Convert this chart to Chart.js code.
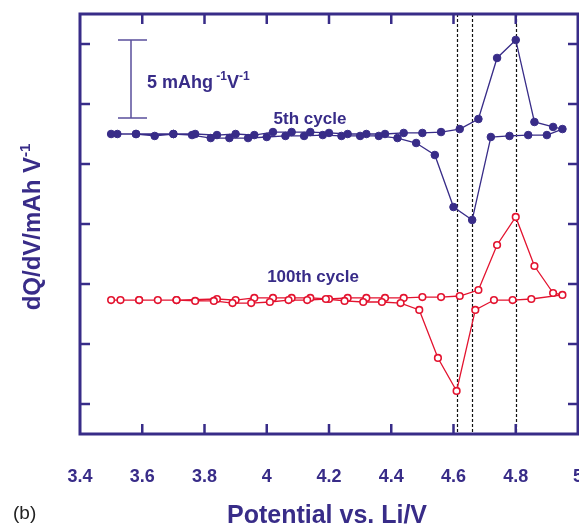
<!DOCTYPE html>
<html>
<head>
<meta charset="utf-8">
<script src="https://cdn.jsdelivr.net/npm/chart.js@4.4.1/dist/chart.umd.min.js"></script>
<style>
  html, body { margin: 0; padding: 0; background: #fff; }
  canvas { display: block; }
</style>
</head>
<body>
<canvas id="dqdv" width="579" height="525"></canvas>
<script>
// 5th cycle, charge (going up in potential) then discharge
const cyc5ChargeV = [3.50, 3.58, 3.70, 3.77, 3.84, 3.90, 3.96, 4.02, 4.08, 4.14, 4.20, 4.26, 4.32, 4.38, 4.44, 4.50, 4.56, 4.62, 4.68, 4.74, 4.80, 4.86, 4.92, 4.95];
const cyc5ChargeQ = [20.0, 20.0, 20.0, 20.0, 19.93, 20.0, 19.93, 20.13, 20.13, 20.13, 20.07, 20.0, 20.0, 20.0, 20.07, 20.07, 20.13, 20.33, 21.0, 25.07, 26.27, 20.8, 20.47, 20.33];
const cyc5DischV = [4.90, 4.84, 4.78, 4.72, 4.66, 4.60, 4.54, 4.48, 4.42, 4.36, 4.30, 4.24, 4.18, 4.12, 4.06, 4.00, 3.94, 3.88, 3.82, 3.76, 3.70, 3.64, 3.58, 3.52];
const cyc5DischQ = [19.93, 19.93, 19.87, 19.8, 14.27, 15.13, 18.6, 19.4, 19.73, 19.87, 19.87, 19.87, 19.93, 19.87, 19.87, 19.8, 19.73, 19.73, 19.73, 19.93, 20.0, 19.87, 20.0, 20.0];

// 100th cycle
const cyc100ChargeV = [3.50, 3.59, 3.71, 3.84, 3.90, 3.96, 4.02, 4.08, 4.14, 4.20, 4.26, 4.32, 4.38, 4.44, 4.50, 4.56, 4.62, 4.68, 4.74, 4.80, 4.86, 4.92, 4.95];
const cyc100ChargeQ = [8.93, 8.93, 8.93, 9.0, 8.93, 9.07, 9.07, 9.07, 9.07, 9.0, 9.07, 9.07, 9.07, 9.07, 9.13, 9.13, 9.2, 9.6, 12.6, 14.47, 11.2, 9.4, 9.27];
const cyc100DischV = [4.85, 4.79, 4.73, 4.67, 4.61, 4.55, 4.49, 4.43, 4.37, 4.31, 4.25, 4.19, 4.13, 4.07, 4.01, 3.95, 3.89, 3.83, 3.77, 3.71, 3.65, 3.59, 3.53];
const cyc100DischQ = [9.0, 8.93, 8.93, 8.27, 2.87, 5.07, 8.27, 8.73, 8.8, 8.8, 8.87, 9.0, 8.93, 8.93, 8.8, 8.73, 8.73, 8.87, 8.87, 8.93, 8.93, 8.93, 8.93];

const xTicks = [3.4, 3.6, 3.8, 4.0, 4.2, 4.4, 4.6, 4.8, 5.0];
const yTicks = [2, 6, 10, 14, 18, 22, 26];
const peakLines = [4.61, 4.66, 4.80];

const NAVY = "#382c88";
const RED = "#e3132f";
const FONT = "'Liberation Sans', Arial, sans-serif";

function toPoints(vs, qs) {
    return vs.map((v, i) => ({ x: v, y: qs[i] }));
}

// text made of chunks, some of them superscript: [[text, isSup], ...]
function drawRich(ctx, parts, x, y, size, supSize, align) {
    let total = 0;
    parts.forEach(p => {
        ctx.font = "bold " + (p[1] ? supSize : size) + "px " + FONT;
        total += ctx.measureText(p[0]).width;
    });
    let cx = align === "center" ? x - total / 2 : x;
    ctx.textAlign = "left";
    ctx.textBaseline = "alphabetic";
    parts.forEach(p => {
        ctx.font = "bold " + (p[1] ? supSize : size) + "px " + FONT;
        ctx.fillText(p[0], cx, p[1] ? y - size * 0.42 : y);
        cx += ctx.measureText(p[0]).width;
    });
}

const framePlugin = {
    id: "frame",
    beforeDatasetsDraw(chart) {
        const { ctx, chartArea: a, scales } = chart;
        ctx.save();
        ctx.strokeStyle = "#111";
        ctx.lineWidth = 1.2;
        ctx.setLineDash([3, 2]);
        peakLines.forEach(v => {
            const px = Math.round(scales.x.getPixelForValue(v)) + 0.5;
            ctx.beginPath();
            ctx.moveTo(px, a.top);
            ctx.lineTo(px, a.bottom);
            ctx.stroke();
        });
        ctx.restore();
    },
    afterDatasetsDraw(chart) {
        const { ctx, chartArea: a, scales } = chart;
        ctx.save();
        ctx.strokeStyle = NAVY;
        ctx.lineWidth = 3;
        ctx.strokeRect(a.left, a.top, a.right - a.left, a.bottom - a.top);

        // inward tick marks on all four sides
        ctx.lineWidth = 2.5;
        xTicks.slice(1, -1).forEach(v => {
            const px = scales.x.getPixelForValue(v);
            ctx.beginPath();
            ctx.moveTo(px, a.bottom);
            ctx.lineTo(px, a.bottom - 10);
            ctx.moveTo(px, a.top);
            ctx.lineTo(px, a.top + 10);
            ctx.stroke();
        });
        yTicks.forEach(v => {
            const py = scales.y.getPixelForValue(v);
            ctx.beginPath();
            ctx.moveTo(a.left, py);
            ctx.lineTo(a.left + 10, py);
            ctx.moveTo(a.right, py);
            ctx.lineTo(a.right - 10, py);
            ctx.stroke();
        });

        // scale bar
        ctx.strokeStyle = "#5a4f9c";
        ctx.lineWidth = 1.5;
        ctx.beginPath();
        ctx.moveTo(131, 40); ctx.lineTo(131, 118);
        ctx.moveTo(118, 40); ctx.lineTo(147, 40);
        ctx.moveTo(118, 118); ctx.lineTo(147, 118);
        ctx.stroke();

        ctx.fillStyle = NAVY;
        drawRich(ctx, [["5 mAhg", false], [" -1", true], ["V", false], ["-1", true]], 147, 88, 18, 12, "left");

        ctx.font = "bold 17px " + FONT;
        ctx.textAlign = "center";
        ctx.textBaseline = "alphabetic";
        ctx.fillText("5th cycle", 310, 124);
        ctx.fillText("100th cycle", 313, 282);

        // axis titles
        ctx.font = "bold 25px " + FONT;
        ctx.fillText("Potential vs. Li/V", 327, 523);

        ctx.save();
        ctx.translate(40, 227);
        ctx.rotate(-Math.PI / 2);
        drawRich(ctx, [["dQ/dV/mAh V", false], ["-1", true]], 0, 0, 24, 15, "center");
        ctx.restore();

        ctx.fillStyle = "#222";
        ctx.font = "19px " + FONT;
        ctx.textAlign = "left";
        ctx.fillText("(b)", 13, 519);
        ctx.restore();
    }
};

new Chart(document.getElementById("dqdv"), {
    type: "scatter",
    data: {
        datasets: [
            {
                label: "5th cycle",
                data: toPoints(cyc5ChargeV.concat(cyc5DischV), cyc5ChargeQ.concat(cyc5DischQ)),
                showLine: true,
                tension: 0,
                borderWidth: 1.3,
                borderColor: NAVY,
                backgroundColor: NAVY,
                pointBackgroundColor: NAVY,
                pointBorderColor: NAVY,
                pointBorderWidth: 1,
                pointRadius: 3.8,
                pointHoverRadius: 3.8
            },
            {
                label: "100th cycle",
                data: toPoints(cyc100ChargeV.concat(cyc100DischV), cyc100ChargeQ.concat(cyc100DischQ)),
                showLine: true,
                tension: 0,
                borderWidth: 1.3,
                borderColor: RED,
                backgroundColor: RED,
                pointBackgroundColor: "#fff",
                pointBorderColor: RED,
                pointBorderWidth: 1.6,
                pointRadius: 3.3,
                pointHoverRadius: 3.3
            }
        ]
    },
    options: {
        responsive: false,
        devicePixelRatio: 1,
        animation: false,
        layout: { autoPadding: false, padding: { top: 14, right: 1, left: 0, bottom: 0 } },
        plugins: {
            legend: { display: false },
            tooltip: { enabled: false }
        },
        scales: {
            x: {
                type: "linear",
                min: 3.4,
                max: 5.0,
                afterBuildTicks: s => { s.ticks = xTicks.map(v => ({ value: v })); },
                afterFit: s => { s.height = 91; s.paddingLeft = 0; s.paddingRight = 0; },
                ticks: {
                    color: NAVY,
                    padding: 32,
                    maxRotation: 0,
                    font: { family: FONT, size: 18, weight: "bold" },
                    callback: v => String(+v.toFixed(1))
                },
                grid: { display: false, drawTicks: false },
                border: { display: false }
            },
            y: {
                min: 0,
                max: 28,
                afterBuildTicks: s => { s.ticks = yTicks.map(v => ({ value: v })); },
                afterFit: s => { s.width = 80; s.paddingTop = 0; s.paddingBottom = 0; },
                ticks: { display: false },
                grid: { display: false, drawTicks: false },
                border: { display: false }
            }
        }
    },
    plugins: [framePlugin]
});
</script>
</body>
</html>
